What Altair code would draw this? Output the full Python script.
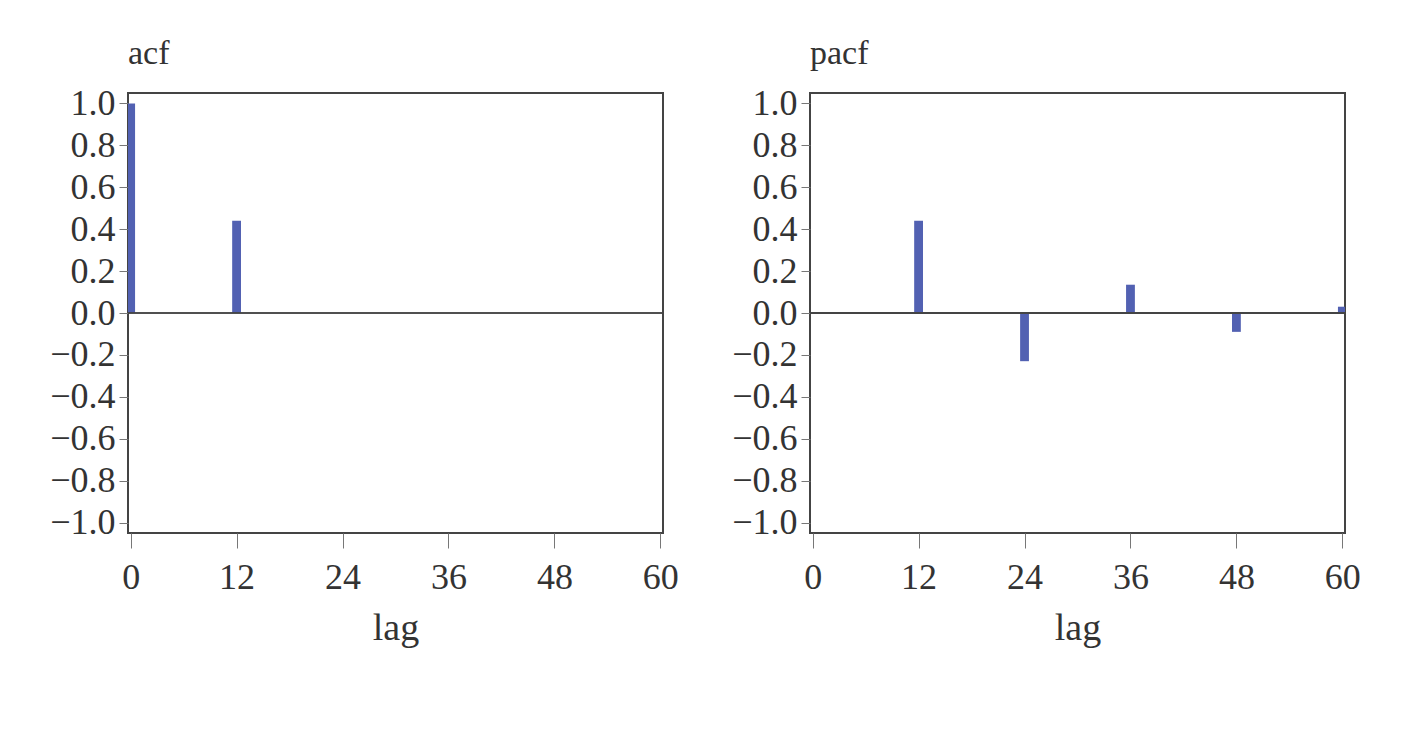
import altair as alt
import pandas as pd

acf_lags = [0, 12]
acf_vals = [1.0, 0.44]
pacf_lags = [12, 24, 36, 48, 60]
pacf_vals = [0.44, -0.23, 0.135, -0.09, 0.03]
x_ticks = [0, 12, 24, 36, 48, 60]
y_ticks = [-1.0, -0.8, -0.6, -0.4, -0.2, 0.0, 0.2, 0.4, 0.6, 0.8, 1.0]

FONT = "Liberation Serif"
BAR = "#5261b2"


def panel(lags, vals, name):
    df = pd.DataFrame({"lag": lags, "value": vals})
    xs = alt.Scale(domain=[-0.3, 60.3], nice=False, zero=False)
    ys = alt.Scale(domain=[-1.05, 1.05], nice=False)
    bars = alt.Chart(df).transform_calculate(
        lo="datum.lag - 0.5", hi="datum.lag + 0.5"
    ).mark_bar(color=BAR, clip=True).encode(
        x=alt.X("lo:Q", scale=xs, title="lag",
                axis=alt.Axis(values=x_ticks, format="d", grid=False,
                              domain=False, tickSize=15, tickColor="#777",
                              labelPadding=12, titlePadding=14)),
        x2="hi:Q",
        y=alt.Y("value:Q", scale=ys, title=None,
                axis=alt.Axis(values=y_ticks, format=".1f", grid=False,
                              domain=False, tickSize=9, tickColor="#777",
                              labelPadding=4)),
        y2=alt.datum(0),
    )
    zero = alt.Chart(df).mark_rule(color="#444", strokeWidth=1.5).encode(
        y=alt.datum(0)
    )
    return alt.layer(bars, zero).properties(
        width=535, height=440,
        title=alt.TitleParams(text=name, anchor="start", frame="group",
                              font=FONT, fontSize=34, fontWeight="normal",
                              color="#333", offset=14),
    )


chart = alt.hconcat(
    panel(acf_lags, acf_vals, "acf"),
    panel(pacf_lags, pacf_vals, "pacf"),
    spacing=50,
).properties(
    padding={"left": 40, "top": 28, "right": 5, "bottom": 5},
    background="white",
).configure_view(
    stroke="#444", strokeWidth=2
).configure_axis(
    labelFont=FONT, titleFont=FONT, labelFontSize=36, titleFontSize=38,
    labelColor="#333", titleColor="#333", titleFontWeight="normal",
)

chart.save("out.html", embed_options={"renderer": "svg", "actions": False})
